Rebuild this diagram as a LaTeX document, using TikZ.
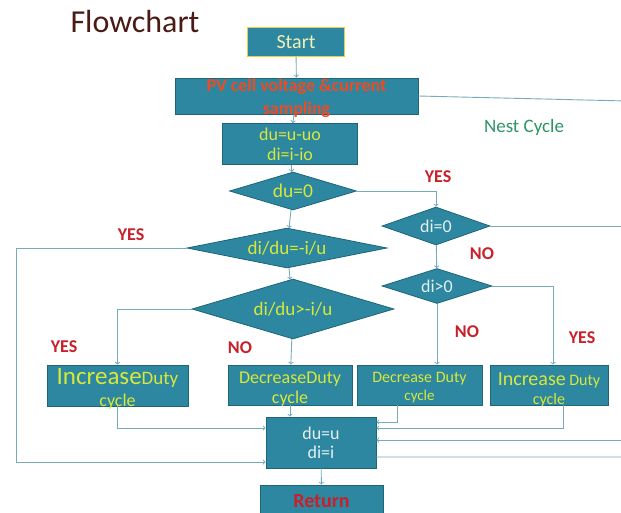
\documentclass[tikz,border=0pt]{standalone}
\usepackage{fontspec}
\setmainfont{Carlito}
\usetikzlibrary{shapes.geometric}

\definecolor{boxfill}{HTML}{2D87A0}
\definecolor{boxline}{HTML}{1E6578}
\definecolor{startline}{HTML}{E6D048}
\definecolor{txtyel}{HTML}{D8E83A}
\definecolor{txtpale}{HTML}{EEF0B4}
\definecolor{txtwhite}{HTML}{E4F0F2}
\definecolor{lblred}{HTML}{C8202A}
\definecolor{pvred}{HTML}{F04A22}
\definecolor{titlecol}{HTML}{4A1A14}
\definecolor{nestcol}{HTML}{2E9468}
\definecolor{linecol}{HTML}{76ABBA}

\newcommand\fsz[2]{\fontsize{#1}{#2}\selectfont}

\tikzset{
  box/.style={rectangle, draw=boxline, fill=boxfill, line width=0.8pt, inner sep=0pt, align=center},
  dia/.style={diamond, draw=boxline, fill=boxfill, line width=0.8pt, inner sep=0pt, aspect=4},
  lbl/.style={text=lblred, font=\fsz{18pt}{18pt}\bfseries},
  arr/.style={->, draw=linecol, line width=0.9pt},
  ln/.style={draw=linecol, line width=0.9pt}
}

\begin{document}
\begin{tikzpicture}[x=1pt, y=-1pt]
  \useasboundingbox (0,0) rectangle (621,512);

  \node (title) [anchor=base west, text=titlecol, font=\fsz{32pt}{32pt}] at (67,32) {Flowchart};

  \node (st) [box, draw=startline, line width=1.4pt, minimum width=97pt, minimum height=29pt, text=txtpale, font=\fsz{20pt}{22pt}] at (296,42) {Start};
  \node (pv) [box, minimum width=243pt, minimum height=36pt, text height=36pt, text depth=0pt, text=pvred, font=\fsz{18pt}{23pt}\bfseries] at (296.5,96) {PV cell voltage \&current\\sampling};
  \node (du) [box, minimum width=135pt, minimum height=41pt, text=txtyel, font=\fsz{18pt}{20pt}] at (290,144) {du=u-uo\\di=i-io};

  \node (d1) [dia, minimum width=127pt, minimum height=38pt, text=txtyel, font=\fsz{19.5pt}{20pt}] at (293,191) {du=0};
  \node (d2) [dia, minimum width=200pt, minimum height=40pt, text=txtyel, font=\fsz{19pt}{20pt}] at (287,248) {di/du=-i/u};
  \node (d3) [dia, minimum width=202pt, minimum height=60pt, text=txtyel, font=\fsz{19pt}{20pt}] at (293,309) {di/du>-i/u};
  \node (d4) [dia, minimum width=108pt, minimum height=38pt, text=txtwhite, font=\fsz{18pt}{20pt}] at (436,226) {di=0};
  \node (d5) [dia, minimum width=110pt, minimum height=35pt, text=txtwhite, font=\fsz{18pt}{20pt}] at (437,286) {di>0};

  \node (inc1) [box, minimum width=141pt, minimum height=41pt, text height=41pt, text depth=0pt, text=txtyel, font=\fsz{18pt}{22pt}] at (117.5,385.5) {{\fsz{25pt}{22pt}Increase}{\fsz{19pt}{22pt}Duty}\\cycle};
  \node (dec1) [box, minimum width=124pt, minimum height=40pt, text height=36pt, text depth=0pt, text=txtyel, font=\fsz{18pt}{20pt}] at (290,385) {DecreaseDuty\\cycle};
  \node (dec2) [box, minimum width=125pt, minimum height=40pt, text height=30pt, text depth=0pt, text=txtyel, font=\fsz{16pt}{18pt}] at (419.5,385) {Decrease Duty\\{\fsz{15pt}{18pt}cycle}};
  \node (inc2) [box, minimum width=118pt, minimum height=40pt, text height=38pt, text depth=0pt, text=txtyel, font=\fsz{16pt}{19pt}] at (549,385) {{\fsz{20pt}{19pt}Increase} Duty\\cycle};

  \node (upd) [box, minimum width=110pt, minimum height=51pt, text=txtwhite, font=\fsz{18pt}{19pt}] at (321,442.5) {du=u\\di=i};
  \node (ret) [box, minimum width=123pt, minimum height=32pt, text=lblred, font=\fsz{20pt}{22pt}\bfseries] at (321.5,501) {Return};

  \node (nest) [text=nestcol, font=\fsz{19pt}{19pt}] at (524,127) {Nest Cycle};

  \node (y1) [lbl] at (438,177) {YES};
  \node (n1) [lbl] at (482,254) {NO};
  \node (n2) [lbl] at (467,332) {NO};
  \node (y2) [lbl] at (582,338) {YES};
  \node (y3) [lbl] at (131,235) {YES};
  \node (y4) [lbl] at (64,347) {YES};
  \node (n3) [lbl] at (240,348) {NO};

  \coordinate (lc) at (16,462);
  \coordinate (r1) at (632,222);
  \coordinate (r2) at (648,101.5);

  \draw[arr] (st) -- (pv);
  \draw[arr] (pv) -- (du);
  \draw[arr] (du) -- (d1);
  \draw[arr] (d1) -- (d2);
  \draw[arr] (d2) -- (d3);
  \draw[arr] (d1.east) -| (d4.north);
  \draw[arr] (d4) -- (d5);
  \draw[arr] (d5.south) -- (d5.south |- dec2.north);
  \draw[arr] (d5.east) -| ([xshift=4pt]inc2.north);
  \draw[arr] (d3.west) -| (inc1.north);
  \draw[arr] (d3) -- (dec1);
  \draw[arr] (d2.west) -| (lc) -- (lc -| upd.west);

  \draw[arr] (inc1.south) |- ([yshift=14.5pt]upd.west);
  \draw[arr] (dec1) -- (dec1 |- upd.north);
  \draw[arr] ([xshift=-22pt]dec2.south) |- ([yshift=20.5pt]upd.east);
  \draw[arr] ([xshift=14pt]inc2.south) |- ([yshift=14.5pt]upd.east);
  \draw[arr] (d4.east) -- (d4.east -| r1) |- ([yshift=2.5pt]upd.east);
  \draw[ln] ([yshift=-14.5pt]upd.east) -| (r2) -- (pv.east);
  \draw[arr] (upd) -- (ret);
\end{tikzpicture}
\end{document}
